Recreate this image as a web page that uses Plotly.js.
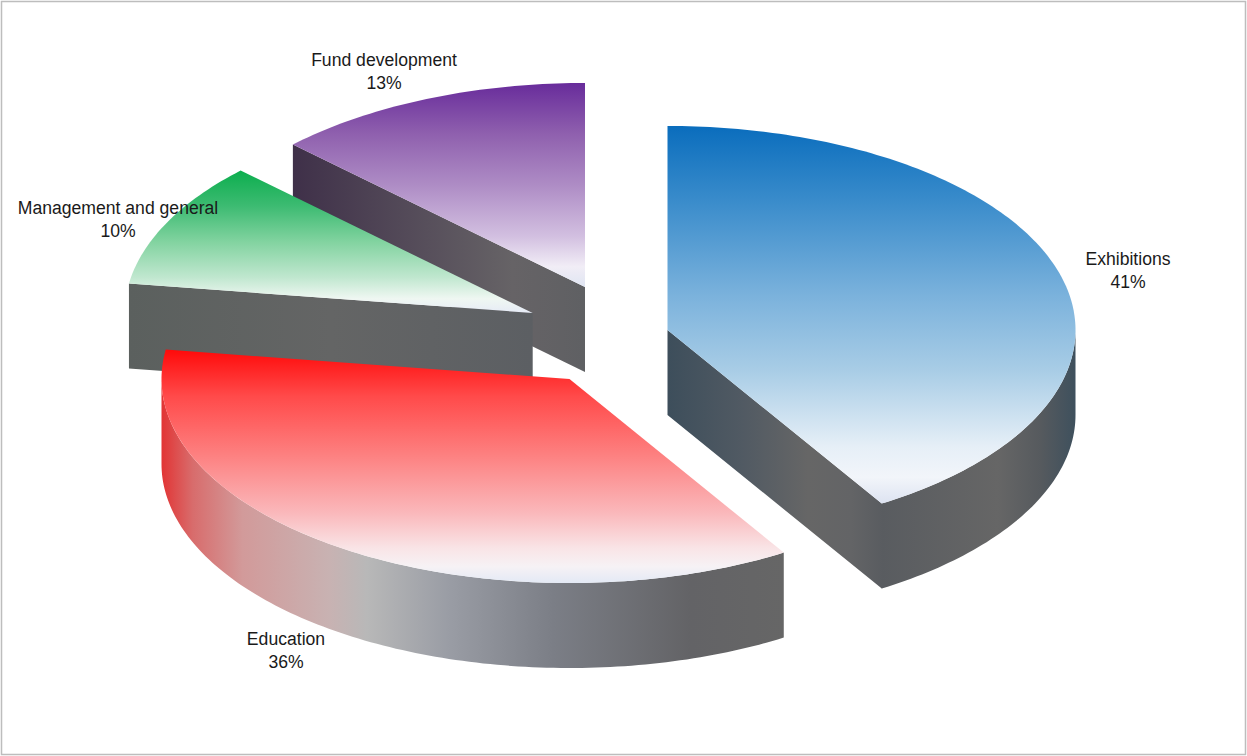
<!DOCTYPE html>
<html>
<head>
<meta charset="utf-8">
<script src="https://cdn.plot.ly/plotly-3.0.1.min.js"></script>
<style>html,body{margin:0;padding:0;background:#fff}#chart{width:1247px;height:756px}</style>
</head>
<body>
<div id="chart"></div>
<script>
// ---- data (clockwise from 12 o'clock) ----
var categories = ['Exhibitions', 'Education', 'Management and general', 'Fund development'];
var shares = [41.2, 36.1, 10.0, 12.7];

// ---- pseudo-3D pie geometry (plot units equal screen pixels) ----
var radiusX = 408, radiusY = 204, depth = 85, seamOverlap = 1.5;
var centreX = [667.5, 569.5, 532.7, 585];
var centreY = [330, 379, 313, 287];
var labelX = [1128, 286, 118, 384];
var labelY = [272, 652, 221, 73];
var drawOrder = [3, 2, 1, 0];

// ---- styles (top scales run from the upper edge of a face to its lower edge) ----
var topScales = [
  [[0,'#0a6dbd'],[0.2,'#3a8ccb'],[0.45,'#7bb2dc'],[0.65,'#a9cde6'],[0.85,'#e6eff7'],[0.93,'#f2f5fa'],[1,'#dde3f1']],
  [[0,'#ff0a0a'],[0.2,'#ff4a4a'],[0.45,'#fd8080'],[0.7,'#fab8bb'],[0.85,'#f9e4e6'],[0.93,'#f6f2f5'],[1,'#e3e9f5']],
  [[0,'#0cae4e'],[0.25,'#3dbb72'],[0.5,'#82d3a0'],[0.75,'#c0e7cf'],[0.9,'#eff7f2'],[1,'#e6ebf6']],
  [[0,'#682c9b'],[0.25,'#8f60ae'],[0.5,'#ae8cc5'],[0.75,'#d2bfe0'],[0.9,'#f1edf6'],[1,'#dfe5f2']]
];
var radialWallScales = [
  [[0,'#3d4e5b'],[0.35,'#515a63'],[0.65,'#666666'],[0.85,'#636466'],[1,'#595c60']],
  null,
  [[0,'#5b605e'],[0.5,'#646565'],[1,'#5c5f63']],
  [[0,'#3f3049'],[0.4,'#544b59'],[0.75,'#666366'],[1,'#5f6063']]
];
var arcWallScales = [
  [[0,'#595c60'],[0.6,'#666666'],[0.82,'#565a5e'],[1,'#3e505d']],
  [[0,'#e23434'],[0.05,'#d86c6c'],[0.13,'#d29a9a'],[0.27,'#c8b2b2'],[0.33,'#b8b8b8'],[0.46,'#9a9da5'],[0.63,'#7b7e86'],[0.85,'#636366'],[1,'#666666']],
  null,
  null
];
var textColor = '#1a1a1a', frameColor = '#bdbdbd';

// ---- build traces from the shares ----
var total = shares.reduce(function (a, b) { return a + b; }, 0);
var startDeg = [], endDeg = [], run = 0;
shares.forEach(function (v) {
  startDeg.push(run / total * 360);
  run += v;
  endDeg.push(run / total * 360);
});
function px(i, deg) { return centreX[i] + radiusX * Math.sin(deg * Math.PI / 180); }
function py(i, deg) { return centreY[i] - radiusY * Math.cos(deg * Math.PI / 180); }
function arc(i, a, b, dy) {
  var xs = [], ys = [], n = Math.max(2, Math.ceil(Math.abs(b - a)));
  for (var k = 0; k <= n; k++) {
    var d = a + (b - a) * k / n;
    xs.push(px(i, d)); ys.push(py(i, d) + dy);
  }
  return {x: xs, y: ys};
}
function poly(xs, ys, type, scale, name) {
  return {
    type: 'scatter', mode: 'none', x: xs, y: ys, fill: 'toself', name: name,
    fillgradient: {type: type, colorscale: scale},
    hoverinfo: 'skip', showlegend: false
  };
}
// the y axis is reversed, so a vertical gradient's zero sits at the lower edge on screen
function flipScale(scale) {
  return scale.map(function (s) { return [1 - s[0], s[1]]; }).reverse();
}
var traces = [];
drawOrder.forEach(function (i) {
  var s = startDeg[i], e = endDeg[i];
  var a0 = Math.max(s, 90), a1 = Math.min(e, 270);
  var hasRim = a1 > a0 && arcWallScales[i];
  // radial wall that faces the viewer
  var wallDeg = Math.sin(e * Math.PI / 180) > 0.01 ? e : (-Math.sin(s * Math.PI / 180) > 0.01 ? s : null);
  if (wallDeg !== null && radialWallScales[i]) {
    var ox = px(i, wallDeg), oy = py(i, wallDeg);
    var xs = [centreX[i], ox], ys = [centreY[i], oy];
    if (hasRim) {
      // tuck the wall slightly under the rim so no light seam shows at the corner
      xs.push(ox + seamOverlap, ox + seamOverlap);
      ys.push(oy, oy + depth - seamOverlap);
    }
    xs.push(ox, centreX[i], centreX[i]);
    ys.push(oy + depth, centreY[i] + depth, centreY[i]);
    traces.push(poly(xs, ys, 'horizontal', radialWallScales[i], categories[i] + ' wall'));
  }
  // outer rim wall, front half of the ellipse only
  if (hasRim) {
    var up = arc(i, a0, a1, 0), dn = arc(i, a1, a0, depth);
    traces.push(poly(up.x.concat(dn.x), up.y.concat(dn.y), 'horizontal', arcWallScales[i], categories[i] + ' rim'));
  }
  // top face
  var t = arc(i, s, e, 0);
  traces.push(poly(
    [centreX[i]].concat(t.x, [centreX[i]]),
    [centreY[i]].concat(t.y, [centreY[i]]),
    'vertical', flipScale(topScales[i]), categories[i]));
});
traces.push({
  type: 'scatter', mode: 'text', x: labelX, y: labelY,
  text: categories.map(function (c, i) { return c + '<br>' + Math.round(shares[i]) + '%'; }),
  textposition: 'middle center',
  textfont: {family: '"Liberation Sans", Arial, sans-serif', size: 17.6, color: textColor},
  hoverinfo: 'skip', showlegend: false, cliponaxis: false
});

var hidden = {visible: false, fixedrange: true};
var layout = {
  width: 1247, height: 756,
  margin: {l: 0, r: 0, t: 0, b: 0},
  paper_bgcolor: '#ffffff', plot_bgcolor: '#ffffff',
  showlegend: false,
  xaxis: Object.assign({range: [0, 1247]}, hidden),
  yaxis: Object.assign({range: [756, 0]}, hidden),
  shapes: [{type: 'rect', xref: 'x', yref: 'y', x0: 1.5, y0: 1.5, x1: 1245.5, y1: 754.5,
            line: {color: frameColor, width: 1.5}, layer: 'below'}]
};
Plotly.newPlot('chart', traces, layout, {displayModeBar: false, staticPlot: true});
</script>
</body>
</html>
